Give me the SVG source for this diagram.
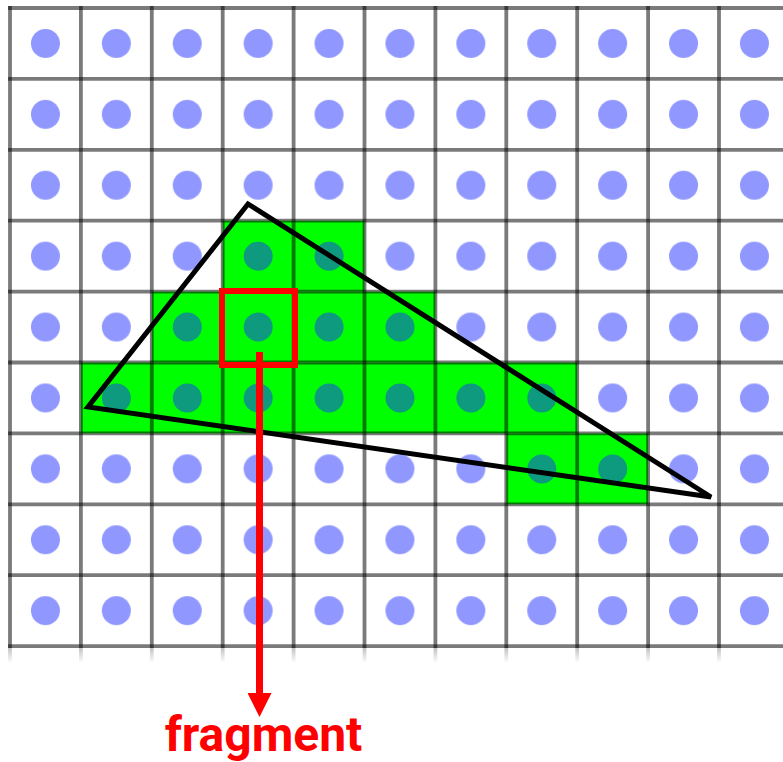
<svg xmlns="http://www.w3.org/2000/svg" width="783" height="762" viewBox="0 0 783 762">
  <defs>
    <pattern id="cells" patternUnits="userSpaceOnUse" x="10" y="8" width="70.9" height="70.9">
      <rect width="70.9" height="70.9" fill="#ffffff"/>
      <circle cx="35.45" cy="35.45" r="14.5" fill="#9098ff"/>
    </pattern>
    <linearGradient id="fade" x1="0" y1="0" x2="0" y2="1">
      <stop offset="0" stop-color="#ffffff" stop-opacity="0.55"/>
      <stop offset="1" stop-color="#ffffff" stop-opacity="1"/>
    </linearGradient>
    <marker id="arrow" markerUnits="userSpaceOnUse" markerWidth="24" markerHeight="24" refX="0" refY="12" orient="auto" viewBox="0 0 24 24">
      <path d="M0,0 L24,12 L0,24 Z" fill="#ff0000"/>
    </marker>
  </defs>
  <style>
    .green { fill: #00ff00; }
    .tdot { fill: #0e9a7f; }
    .grid line { stroke: #000000; stroke-opacity: 0.52; stroke-width: 3.8; }
    .label { font-family: Roboto, "Liberation Sans", sans-serif; font-weight: bold; font-size: 48px; fill: #ff0000; }
  </style>
  <rect width="783" height="762" fill="#ffffff"/>
  <g id="grid-cells">
    <rect x="10" y="8" width="780" height="655" fill="url(#cells)"/>
  </g>
  <g id="covered-cells">
    <rect class="green" x="222.7" y="220.7" width="141.8" height="70.9"/>
    <rect class="green" x="151.8" y="291.6" width="283.6" height="70.9"/>
    <rect class="green" x="80.9" y="362.5" width="496.3" height="70.9"/>
    <rect class="green" x="506.3" y="433.4" width="141.8" height="70.9"/>
    <circle class="tdot" cx="258.2" cy="256.2" r="14.5"/>
    <circle class="tdot" cx="329.1" cy="256.2" r="14.5"/>
    <circle class="tdot" cx="187.3" cy="327.1" r="14.5"/>
    <circle class="tdot" cx="258.2" cy="327.1" r="14.5"/>
    <circle class="tdot" cx="329.1" cy="327.1" r="14.5"/>
    <circle class="tdot" cx="400" cy="327.1" r="14.5"/>
    <circle class="tdot" cx="116.4" cy="398" r="14.5"/>
    <circle class="tdot" cx="187.3" cy="398" r="14.5"/>
    <circle class="tdot" cx="258.2" cy="398" r="14.5"/>
    <circle class="tdot" cx="329.1" cy="398" r="14.5"/>
    <circle class="tdot" cx="400" cy="398" r="14.5"/>
    <circle class="tdot" cx="470.9" cy="398" r="14.5"/>
    <circle class="tdot" cx="541.8" cy="398" r="14.5"/>
    <circle class="tdot" cx="541.8" cy="468.9" r="14.5"/>
    <circle class="tdot" cx="612.7" cy="468.9" r="14.5"/>
  </g>
  <g id="grid-lines" class="grid">
    <line x1="8.1" y1="8" x2="783" y2="8"/>
    <line x1="8.1" y1="78.9" x2="783" y2="78.9"/>
    <line x1="8.1" y1="149.8" x2="783" y2="149.8"/>
    <line x1="8.1" y1="220.7" x2="783" y2="220.7"/>
    <line x1="8.1" y1="291.6" x2="783" y2="291.6"/>
    <line x1="8.1" y1="362.5" x2="783" y2="362.5"/>
    <line x1="8.1" y1="433.4" x2="783" y2="433.4"/>
    <line x1="8.1" y1="504.3" x2="783" y2="504.3"/>
    <line x1="8.1" y1="575.2" x2="783" y2="575.2"/>
    <line x1="8.1" y1="646.1" x2="783" y2="646.1"/>
    <line x1="10" y1="6.1" x2="10" y2="663"/>
    <line x1="80.9" y1="6.1" x2="80.9" y2="663"/>
    <line x1="151.8" y1="6.1" x2="151.8" y2="663"/>
    <line x1="222.7" y1="6.1" x2="222.7" y2="663"/>
    <line x1="293.6" y1="6.1" x2="293.6" y2="663"/>
    <line x1="364.5" y1="6.1" x2="364.5" y2="663"/>
    <line x1="435.4" y1="6.1" x2="435.4" y2="663"/>
    <line x1="506.3" y1="6.1" x2="506.3" y2="663"/>
    <line x1="577.2" y1="6.1" x2="577.2" y2="663"/>
    <line x1="648.1" y1="6.1" x2="648.1" y2="663"/>
    <line x1="719" y1="6.1" x2="719" y2="663"/>
  </g>
  <rect x="0" y="648" width="783" height="15" fill="url(#fade)"/>
  <g id="triangle">
    <polygon points="248,204 88,407 711,497" fill="none" stroke="#000000" stroke-width="5" stroke-linejoin="miter"/>
  </g>
  <g id="fragment-box">
    <rect x="222" y="291" width="73" height="74" fill="none" stroke="#ff0000" stroke-width="6"/>
  </g>
  <g id="connectors">
    <line x1="259.5" y1="352" x2="259.5" y2="693" stroke="#ff0000" stroke-width="7" marker-end="url(#arrow)"/>
  </g>
  <g id="fragment-label">
    <text class="label" x="263.5" y="751" text-anchor="middle">fragment</text>
  </g>
</svg>
